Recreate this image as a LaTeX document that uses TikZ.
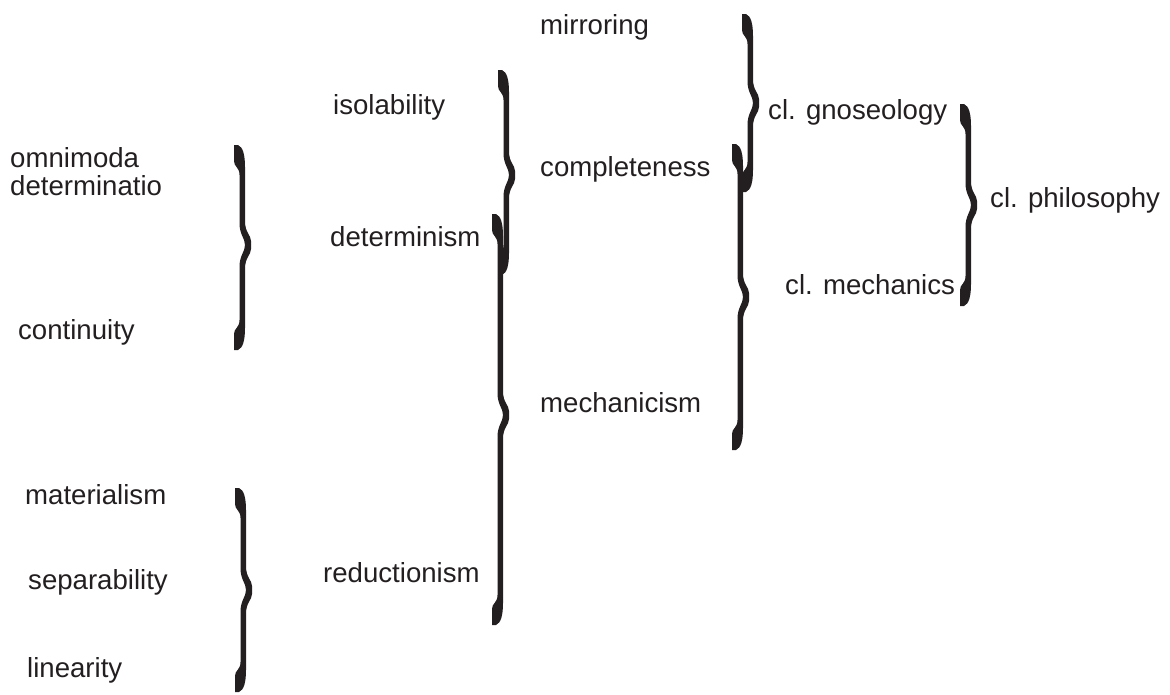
\documentclass[tikz,border=0pt]{standalone}
\usepackage{fontspec}
\setmainfont{Liberation Sans}
\definecolor{ink}{HTML}{231F20}
\newcommand\cbrace[4]{% stroke x, top y, tip y, bottom y
\fill[ink] ({#1-8},#2) -- ({#1-4},#2)
 .. controls ({#1+1},{#2+2}) and ({#1+3},{#2+10}) .. ({#1+3},{#2+22})
 -- ({#1+3},{#3-24})
 .. controls ({#1+3},{#3-12}) and ({#1+9},{#3-10}) .. ({#1+9},{#3-4})
 -- ({#1+9},{#3+4})
 .. controls ({#1+9},{#3+10}) and ({#1+3},{#3+12}) .. ({#1+3},{#3+24})
 -- ({#1+3},{#4-22})
 .. controls ({#1+3},{#4-10}) and ({#1+1},{#4-2}) .. ({#1-4},#4)
 -- ({#1-8},#4) -- ({#1-8},{#4-16})
 .. controls ({#1-8},{#4-22}) and ({#1-2.5},{#4-22}) .. ({#1-2.5},{#4-30})
 -- ({#1-2.5},{#3+22})
 .. controls ({#1-2.5},{#3+10}) and ({#1+3},{#3+7}) .. ({#1+3},#3)
 .. controls ({#1+3},{#3-7}) and ({#1-2.5},{#3-10}) .. ({#1-2.5},{#3-22})
 -- ({#1-2.5},{#2+30})
 .. controls ({#1-2.5},{#2+22}) and ({#1-8},{#2+22}) .. ({#1-8},{#2+16})
 -- cycle;}
\begin{document}
\begin{tikzpicture}[x=1pt,y=-1pt,
  lbl/.style={anchor=base west,inner sep=0pt,text=ink,
    font=\fontsize{27.6pt}{28pt}\selectfont}]
\useasboundingbox (0,0) rectangle (1170,694);
% labels
\node[lbl] (mirr) at (540,34) {mirroring};
\node[lbl] (isol) at (333,114) {isolability};
\node[lbl] (omni) at (10,167) {omnimoda};
\node[lbl] (detn) at (10,195) {determinatio};
\node[lbl] (comp) at (540,176) {completeness};
\node[lbl] (gnos) at (768,119) {cl. gnoseology};
\node[lbl] (phil) at (990,207) {cl. philosophy};
\node[lbl] (detm) at (330,246) {determinism};
\node[lbl] (mech) at (785,294) {cl. mechanics};
\node[lbl] (cont) at (18,339) {continuity};
\node[lbl] (mcsm) at (540,412) {mechanicism};
\node[lbl] (matl) at (25,504) {materialism};
\node[lbl] (sepa) at (28,589) {separability};
\node[lbl] (redu) at (323,582) {reductionism};
\node[lbl] (line) at (27,677) {linearity};
% braces
\cbrace{242}{145}{245}{350}
\cbrace{243}{488}{590}{692}
\cbrace{506}{70}{175}{275}
\cbrace{500}{214}{415}{625}
\cbrace{750}{14}{103}{192}
\cbrace{740}{144}{297}{450}
\cbrace{968}{104}{205}{306}
\end{tikzpicture}
\end{document}
